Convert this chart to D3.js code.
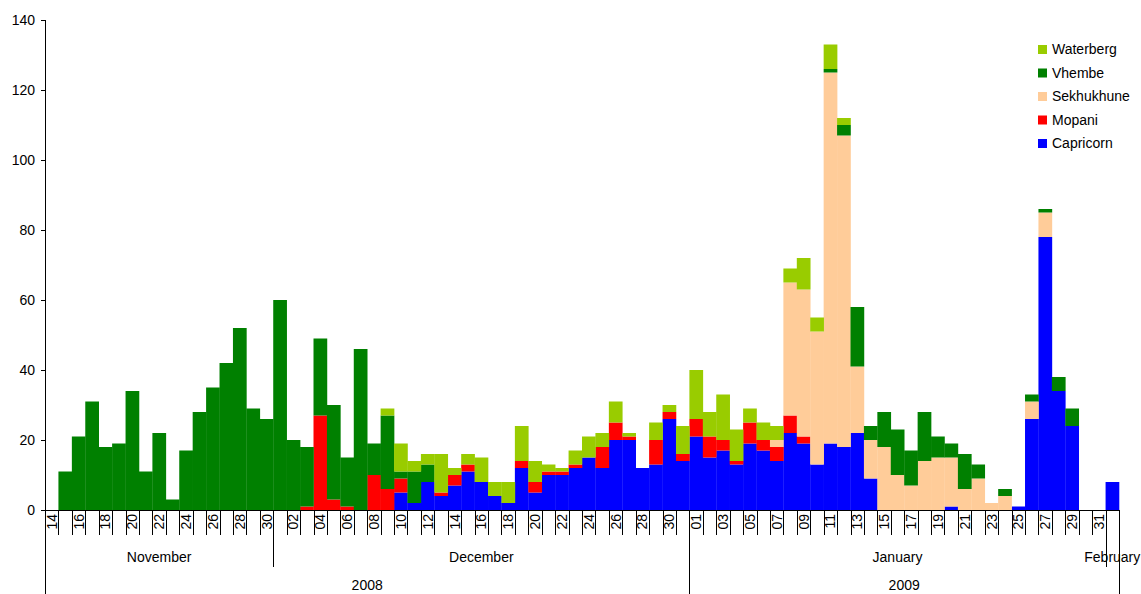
<!DOCTYPE html>
<html><head><meta charset="utf-8">
<script src="https://cdn.jsdelivr.net/npm/d3@7"></script>
<style>
body{margin:0;background:#fff}
svg{display:block}
text{font-family:Arial,"Liberation Sans",sans-serif;fill:#000}
</style>
</head><body><svg width="1141" height="594"></svg>
<script>
// ---------- data ----------
const firstDay = new Date(2008, 10, 14);
const lastDay = new Date(2009, 1, 1);
const seriesNames = ["Capricorn", "Mopani", "Sekhukhune", "Vhembe", "Waterberg"];
const seriesColors = ["#0000FF", "#FF0000", "#FFCC99", "#008000", "#99CC00"];
const yTicks = [0, 20, 40, 60, 80, 100, 120, 140];
const monthNames = ["November", "December", "January", "February"];
const yearNames = ["2008", "2009"];

const capricorn = [
  0,0,0,0,0,0,0,0,0,0,0,0,0,0,0,0,0,
  0,0,0,0,0,0,0,0,0,5,2,8,4,7,11,8,4,2,12,5,10,10,12,15,12,20,20,12,13,26,14,
  21,15,17,13,19,17,14,22,19,13,19,18,22,9,0,0,0,0,0,1,0,0,0,0,1,26,78,34,24,0,0,
  8];
const mopani = [
  0,0,0,0,0,0,0,0,0,0,0,0,0,0,0,0,0,
  0,0,1,27,3,1,0,10,6,4,0,0,1,3,2,0,0,0,2,3,1,1,1,0,6,5,1,0,7,2,2,
  5,6,3,1,6,3,4,5,2,0,0,0,0,0,0,0,0,0,0,0,0,0,0,0,0,0,0,0,0,0,0,
  0];
const sekhukhune = [
  0,0,0,0,0,0,0,0,0,0,0,0,0,0,0,0,0,
  0,0,0,0,0,0,0,0,0,0,0,0,0,0,0,0,0,0,0,0,0,0,0,0,0,0,0,0,0,0,0,
  0,0,0,0,0,0,2,38,42,38,106,89,19,11,18,10,7,14,15,14,6,9,2,4,0,5,7,0,0,0,0,
  0];
const vhembe = [
  0,11,21,31,18,19,34,11,22,3,17,28,35,42,52,29,26,
  60,20,17,22,27,14,46,9,21,2,9,5,0,0,0,0,0,0,0,0,0,0,0,0,0,0,0,0,0,0,0,
  0,0,0,0,0,0,0,0,0,0,1,3,17,4,10,13,10,14,6,4,10,4,0,2,0,2,1,4,5,0,0,
  0];
const waterberg = [
  0,0,0,0,0,0,0,0,0,0,0,0,0,0,0,0,0,
  0,0,0,0,0,0,0,0,2,8,3,3,11,2,3,7,4,6,10,6,2,1,4,6,4,6,1,0,5,2,8,
  14,7,13,9,4,5,4,4,9,4,7,2,0,0,0,0,0,0,0,0,0,0,0,0,0,0,0,0,0,0,0,
  0];
const seriesValues = [capricorn, mopani, sekhukhune, vhembe, waterberg];

// ---------- build table ----------
const days = d3.timeDay.range(firstDay, d3.timeDay.offset(lastDay, 1));
const table = days.map((d, i) => {
  const row = {i: i, date: d};
  seriesNames.forEach((s, k) => row[s] = seriesValues[k][i]);
  return row;
});

// ---------- layout ----------
const svg = d3.select("svg");
const L = 45, R = 1119, T = 20, B = 510;
const x = d3.scaleBand().domain(table.map(r => r.i)).range([L, R]).padding(0);
const y = d3.scaleLinear().domain([0, 140]).range([B, T]);
const color = d3.scaleOrdinal().domain(seriesNames).range(seriesColors);

const stacked = d3.stack().keys(seriesNames)(table);

svg.append("g").selectAll("g").data(stacked).join("g")
  .attr("fill", s => color(s.key))
  .selectAll("rect").data(s => s).join("rect")
  .attr("x", d => x(d.data.i))
  .attr("width", x.bandwidth() + 0.3)
  .attr("y", d => y(d[1]))
  .attr("height", d => Math.max(0, y(d[0]) - y(d[1])));

// y axis
const yAx = svg.append("g").attr("transform", `translate(${L},0)`)
  .call(d3.axisLeft(y).tickValues(yTicks).tickSize(4).tickPadding(6));
yAx.select(".domain").remove();
yAx.selectAll("text").style("font-size", "14px").attr("font-family", null);
yAx.selectAll("line").attr("stroke", "#000");
svg.append("line").attr("x1", L + 0.5).attr("x2", L + 0.5).attr("y1", T).attr("y2", 594)
  .attr("stroke", "#000");

// x axis labels (every other day)
const fmt = d3.timeFormat("%d");
const xAx = svg.append("g").attr("transform", `translate(0,${B})`)
  .call(d3.axisBottom(x).tickSize(0)
    .tickValues(table.filter(r => r.i % 2 === 0).map(r => r.i))
    .tickFormat(i => fmt(table[i].date)));
xAx.select(".domain").remove();
xAx.selectAll("text")
  .style("font-size", "14px")
  .attr("font-family", null)
  .attr("transform", "rotate(-90)")
  .attr("x", -4).attr("y", 0).attr("dy", "0.36em")
  .style("text-anchor", "end");

// baseline
svg.append("line").attr("x1", L).attr("x2", R).attr("y1", B + 0.5).attr("y2", B + 0.5)
  .attr("stroke", "#000");

// category boundary ticks
const bounds = table.map(r => x(r.i)).concat([R]);
svg.append("g").selectAll("line").data(bounds).join("line")
  .attr("x1", d => Math.round(d) + 0.5).attr("x2", d => Math.round(d) + 0.5)
  .attr("y1", B).attr("y2", B + 25).attr("stroke", "#000");

// month groups
const monthGroups = d3.groups(table, r => d3.timeMonth.floor(r.date).getTime())
  .map(([k, rows], j) => ({name: monthNames[j], start: x(rows[0].i), end: x(rows[rows.length - 1].i) + x.bandwidth()}));
const yearGroups = d3.groups(table, r => r.date.getFullYear())
  .map(([k, rows], j) => ({name: yearNames[j], start: x(rows[0].i), end: x(rows[rows.length - 1].i) + x.bandwidth()}));

svg.append("g").selectAll("line").data(monthGroups.slice(0, -1)).join("line")
  .attr("x1", d => Math.round(d.end) + 0.5).attr("x2", d => Math.round(d.end) + 0.5)
  .attr("y1", B).attr("y2", 567).attr("stroke", "#000");
svg.append("g").selectAll("line").data(yearGroups).join("line")
  .attr("x1", d => Math.round(d.end) + 0.5).attr("x2", d => Math.round(d.end) + 0.5)
  .attr("y1", B).attr("y2", 594).attr("stroke", "#000");

svg.append("g").selectAll("text").data(monthGroups).join("text")
  .attr("x", d => (d.start + d.end) / 2).attr("y", 562)
  .attr("text-anchor", "middle").style("font-size", "14px")
  .text(d => d.name);
svg.append("g").selectAll("text").data(yearGroups).join("text")
  .attr("x", d => (d.start + d.end) / 2).attr("y", 590)
  .attr("text-anchor", "middle").style("font-size", "14px")
  .text(d => d.name);

// legend
const legendOrder = seriesNames.slice().reverse();
const lg = svg.append("g").selectAll("g").data(legendOrder).join("g")
  .attr("transform", (d, i) => `translate(1038,${49.5 + i * 23.5})`);
lg.append("rect").attr("x", 0).attr("y", -4.5).attr("width", 9).attr("height", 9)
  .attr("fill", d => color(d));
lg.append("text").attr("x", 14).attr("y", 0).attr("dy", "0.35em")
  .style("font-size", "14px").text(d => d);
</script>
</body></html>
